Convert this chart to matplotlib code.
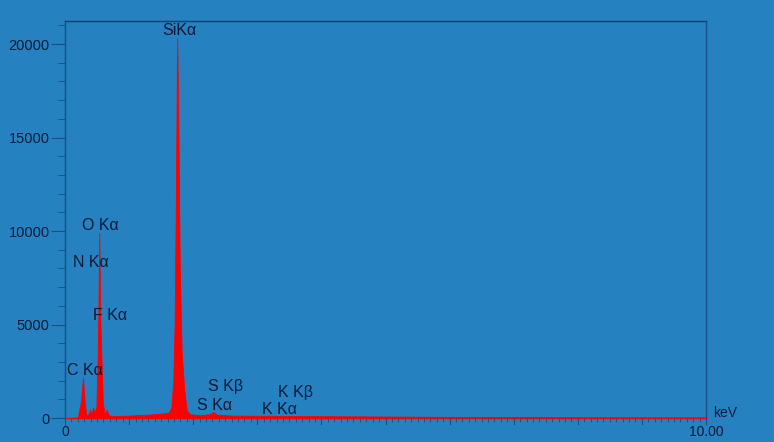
import numpy as np
import matplotlib.pyplot as plt
from matplotlib.ticker import MultipleLocator, FixedLocator

# EDS spectrum (energy in keV, counts)
energy = [0.00, 0.15, 0.20, 0.25, 0.28, 0.30, 0.33, 0.37, 0.39, 0.41, 0.44, 0.46,
          0.49, 0.51, 0.52, 0.535, 0.55, 0.57, 0.59, 0.62, 0.65, 0.68, 0.75,
          1.00, 1.30, 1.55, 1.62, 1.66, 1.69, 1.71, 1.73, 1.745, 1.75, 1.76,
          1.77, 1.79, 1.82, 1.86, 1.90, 1.95, 2.10, 2.25, 2.31, 2.37, 2.60,
          3.00, 4.00, 5.00, 6.00, 7.00, 8.00, 9.00, 10.0]
counts = [0, 0, 50, 900, 2150, 1200, 150, 200, 450, 200, 550, 250,
          600, 3500, 5500, 9900, 5200, 3000, 800, 200, 450, 150, 100,
          130, 180, 250, 300, 600, 2000, 5000, 12000, 18400, 20300, 18000,
          15200, 8000, 3500, 1500, 400, 200, 150, 200, 320, 180, 130,
          120, 100, 80, 60, 50, 40, 35, 30]

# peak labels and their positions (keV, counts)
peak_labels = ['SiK\u03b1', 'O K\u03b1', 'N K\u03b1', 'F K\u03b1', 'C K\u03b1',
               'S K\u03b2', 'S K\u03b1', 'K K\u03b2', 'K K\u03b1']
label_x = [1.78, 0.55, 0.41, 0.70, 0.31, 2.50, 2.34, 3.60, 3.34]
label_y = [20700, 10270, 8340, 5455, 2514, 1658, 695, 1390, 481]

bg = '#2681c1'
ink = '#0a1a36'
spine_c = '#154f85'

plt.rcParams['font.family'] = ['Liberation Sans', 'DejaVu Sans']

fig = plt.figure(figsize=(7.74, 4.42), dpi=100)
fig.patch.set_facecolor(bg)
ax = fig.add_axes([65 / 774, 1 - 418 / 442, 641 / 774, 397 / 442])
ax.set_facecolor(bg)

ax.fill_between(energy, counts, 0, color='#ff0000', lw=0.6, edgecolor='#ff0000', zorder=3)

ax.set_xlim(0, 10)
ax.set_ylim(0, 21230)

for s in ['top', 'right', 'left', 'bottom']:
    ax.spines[s].set_color(spine_c)
    ax.spines[s].set_linewidth(1.0)
ax.spines['top'].set_color('#0d3f72')

ax.yaxis.set_major_locator(MultipleLocator(5000))
ax.yaxis.set_minor_locator(MultipleLocator(1000))
ax.xaxis.set_major_locator(FixedLocator([0, 10]))
ax.xaxis.set_minor_locator(MultipleLocator(0.1))
ax.set_xticklabels(['0', '10.00'])

ax.tick_params(axis='y', which='major', length=10, color=spine_c, labelcolor=ink, labelsize=10.5, pad=1)
ax.tick_params(axis='y', which='minor', length=5, color=spine_c)
ax.tick_params(axis='x', which='major', length=5, color=spine_c, labelcolor=ink, labelsize=10, pad=0)
ax.tick_params(axis='x', which='minor', length=3, color=spine_c)
for x in range(1, 10):
    ax.plot([x, x], [0, -330], color=spine_c, lw=0.8, clip_on=False)

ax.text(1.03, -0.005, 'keV', transform=ax.transAxes, fontsize=10, color=ink,
        ha='center', va='bottom')

for lab, x, y in zip(peak_labels, label_x, label_y):
    ax.text(x, y, lab, fontsize=11.5, color=ink, ha='center', va='center', zorder=4)

fig.savefig('out.png', dpi=100, facecolor=bg)
